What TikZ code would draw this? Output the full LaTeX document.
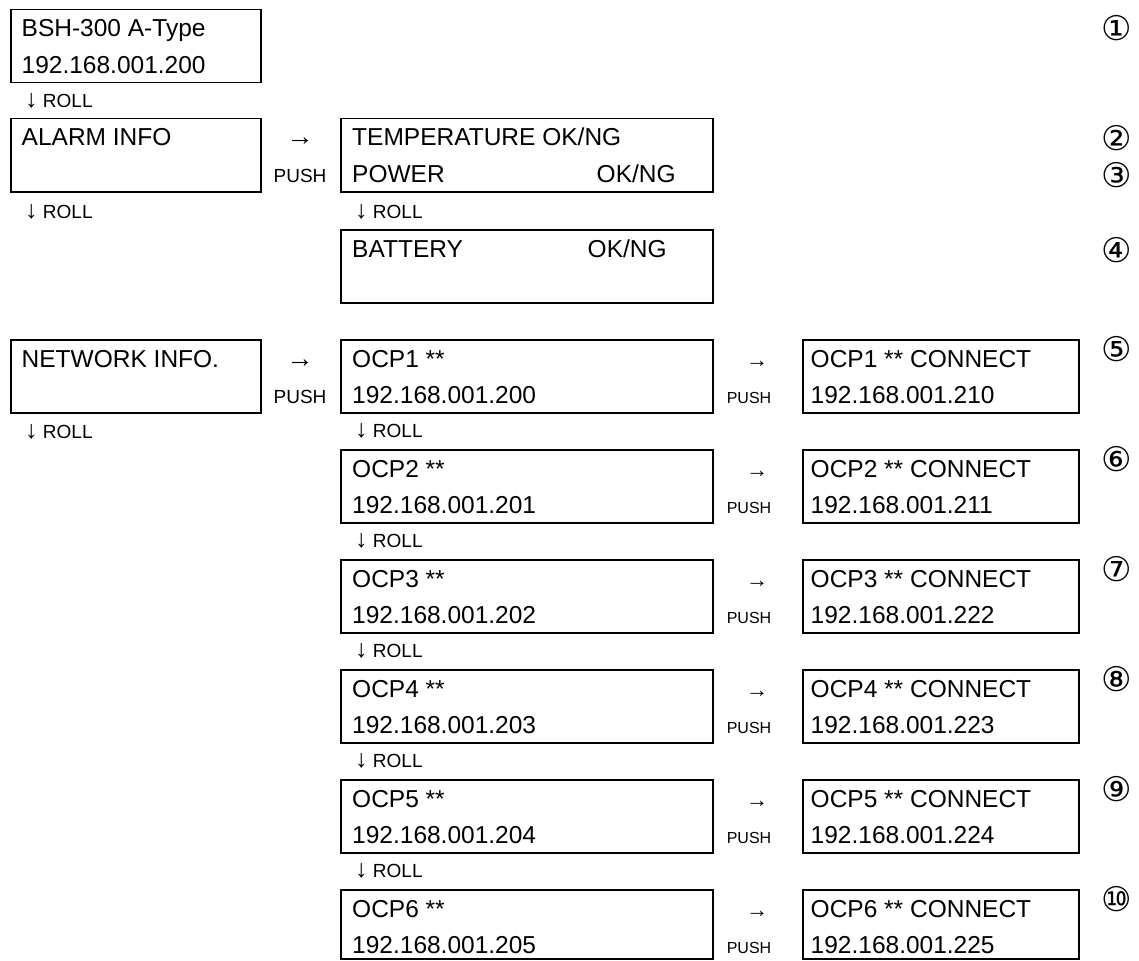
\documentclass[tikz,border=0pt]{standalone}
\usepackage{fontspec}
\setmainfont{Liberation Sans}
\newfontfamily\circfont{DejaVu Sans}
\newcommand{\dnarr}{{\fontsize{25}{25}\selectfont↓}}
\begin{document}
\begin{tikzpicture}[x=1pt,y=-1pt,
  scr/.style={draw, line width=1.5pt, rectangle, anchor=north west, inner sep=0pt, minimum height=73pt},
  big/.style={anchor=base west, inner sep=0pt, font=\fontsize{24.5}{28}\selectfont},
  sml/.style={anchor=base west, inner sep=0pt, font=\fontsize{19}{22}\selectfont},
  key/.style={anchor=base, inner sep=0pt, font=\fontsize{19}{22}\selectfont},
  keyr/.style={anchor=base, inner sep=0pt, font=\fontsize{16}{19}\selectfont},
  arl/.style={anchor=base, inner sep=0pt, font=\fontsize{27}{28}\selectfont},
  arr/.style={anchor=base, inner sep=0pt, font=\fontsize{22}{24}\selectfont},
  num/.style={anchor=center, inner sep=0pt, font=\circfont\fontsize{34}{36}\selectfont}]
\useasboundingbox (0,0) rectangle (1139,960);

% row 1
\node[scr, minimum width=250pt] (bsh) at (10,9) {};
\node[big] (bshA) at (21.5,37) {BSH-300 A-Type};
\node[big] (bshB) at (21.5,73.5) {192.168.001.200};
\node[sml] (rollA) at (25,108) {\dnarr\ ROLL};
\node[num] (n1) at (1117,28) {①};

% row 2
\node[scr, minimum width=250pt] (alarm) at (10,118) {};
\node[big] (alarmA) at (21.5,146) {ALARM INFO};
\node[arl] (arrA) at (300,146) {→};
\node[key] (pushA) at (300,182.5) {PUSH};
\node[scr, minimum width=372pt] (temp) at (340,118) {};
\node[big] (tempA) at (352,146) {TEMPERATURE OK/NG};
\node[big] (tempB) at (352,182.5) {POWER};
\node[big] (tempC) at (596.5,182.5) {OK/NG};
\node[sml] (rollB) at (25,218) {\dnarr\ ROLL};
\node[sml] (rollC) at (355,218) {\dnarr\ ROLL};
\node[num] (n2) at (1117,138) {②};
\node[num] (n3) at (1117,175) {③};

% row 3
\node[scr, minimum width=372pt] (batt) at (340,229) {};
\node[big] (battA) at (352,257) {BATTERY};
\node[big] (battB) at (587.5,257) {OK/NG};
\node[num] (n4) at (1117,250) {④};

% network
\node[scr, minimum width=250pt] (net) at (10,339) {};
\node[big] (netA) at (21.5,367) {NETWORK INFO.};
\node[arl] (arrN) at (300,367) {→};
\node[key] (pushN) at (300,403.5) {PUSH};
\node[sml] (rollN) at (25,438) {\dnarr\ ROLL};

\foreach \i/\n/\ip/\cip/\c/\h in {0/1/200/210/⑤/73,1/2/201/211/⑥/73,2/3/202/222/⑦/73,3/4/203/223/⑧/73,4/5/204/224/⑨/73,5/6/205/225/⑩/69}{
  \pgfmathsetmacro{\T}{339+110*\i}
  \node[scr, minimum width=372pt, minimum height=\h pt] (ocp\n) at (340,\T) {};
  \node[big] (ocp\n a) at (352,\T+28) {OCP\n\ **};
  \node[big] (ocp\n b) at (352,\T+64.5) {192.168.001.\ip};
  \node[arr] (arr\n) at (757,\T+28) {→};
  \node[keyr] (push\n) at (749,\T+64.5) {PUSH};
  \node[scr, minimum width=276pt, minimum height=\h pt] (con\n) at (802,\T) {};
  \node[big] (con\n a) at (810.5,\T+28) {OCP\n\ ** CONNECT};
  \node[big] (con\n b) at (810.5,\T+64.5) {192.168.001.\cip};
  \node[num] (c\n) at (1117,\T+10) {\c};
}
\foreach \i in {0,...,4}{
  \pgfmathsetmacro{\T}{339+110*\i}
  \node[sml] (roll\i) at (355,\T+98) {\dnarr\ ROLL};
}
\end{tikzpicture}
\end{document}
